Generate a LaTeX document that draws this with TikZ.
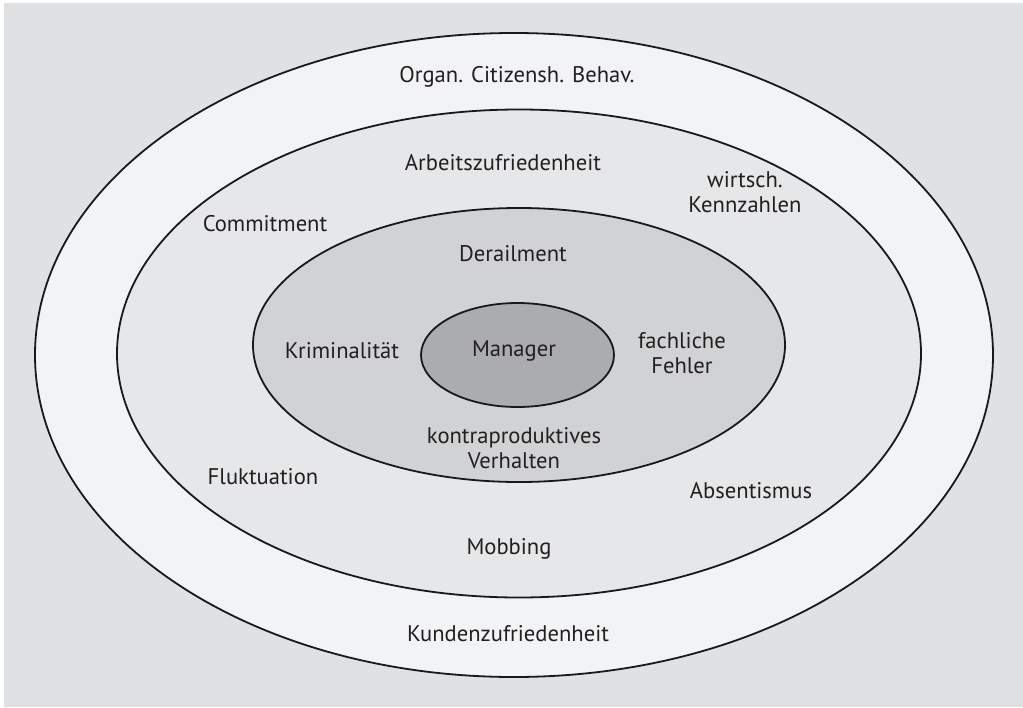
\documentclass[tikz,border=0pt]{standalone}
\usepackage{fontspec}
\setmainfont{PT Sans}
\usepackage{tikz}
\usetikzlibrary{calc}

\definecolor{bggray}{HTML}{E0E1E3}
\definecolor{ringa}{HTML}{F2F3F5}
\definecolor{ringb}{HTML}{E6E7E8}
\definecolor{ringc}{HTML}{D1D2D4}
\definecolor{core}{HTML}{ABACAE}
\definecolor{txt}{HTML}{231F20}

\tikzset{
  ring/.style={draw=black!90, line width=0.9pt},
  lbl/.style={text=txt, font=\fontsize{11.3}{12.3}\selectfont, align=center, inner sep=0pt}
}

\begin{document}
\begin{tikzpicture}[x=0.5pt, y=-0.5pt]
    % Frame
    \useasboundingbox (0,0) rectangle (1023,707);
    \fill[white] (0,0) rectangle (1023,707);
    \fill[bggray] (4,3) rectangle (1023,707);
    % Rings
    \draw[ring, fill=ringa] (514,355) ellipse [x radius=479, y radius=322];
    \draw[ring, fill=ringb] (519,353.5) ellipse [x radius=402, y radius=244];
    \draw[ring, fill=ringc] (519,345) ellipse [x radius=266, y radius=137];
    \draw[ring, fill=core] (517.5,355) ellipse [x radius=96.5, y radius=52];
    % Outer ring
    \node[lbl] (ocb) at (517,77) {Organ. Citizensh. Behav.};
    \node[lbl] (kunden) at (508,634) {Kundenzufriedenheit};
    % Middle ring
    \node[lbl] (arbeit) at (503,163) {Arbeitszufriedenheit};
    \node[lbl] (kennz) at (745,192) {wirtsch.\\Kennzahlen};
    \node[lbl] (commit) at (265,224) {Commitment};
    \node[lbl] (fluk) at (263,477) {Fluktuation};
    \node[lbl] (absent) at (751,491) {Absentismus};
    \node[lbl] (mobb) at (509,549) {Mobbing};
    % Inner ring
    \node[lbl] (derail) at (513,254) {Derailment};
    \node[lbl] (krim) at (342,351) {Kriminalität};
    \node[lbl] (fehler) at (682,353) {fachliche\\Fehler};
    \node[lbl] (kontra) at (514,448) {kontraproduktives\\Verhalten};
    % Core
    \node[lbl] (mgr) at (514,351) {Manager};
\end{tikzpicture}
\end{document}
